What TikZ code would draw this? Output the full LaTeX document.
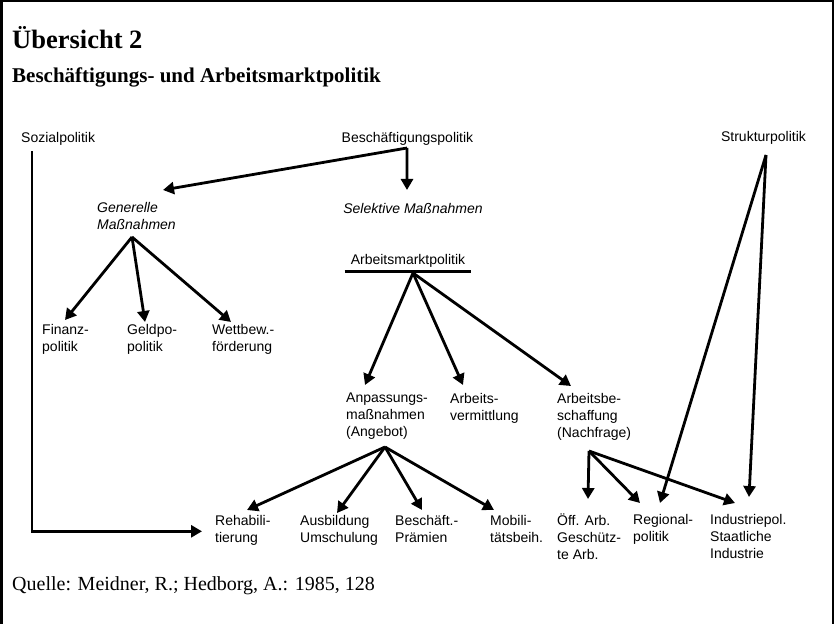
\documentclass[tikz,border=0pt]{standalone}
\usepackage{fontspec}
\setmainfont{Liberation Serif}
\newfontfamily\schaufont{Liberation Sans}
\newcommand\schau{\schaufont\fontsize{14bp}{17bp}\selectfont}
\usetikzlibrary{arrows.meta,calc}

\begin{document}
\begin{tikzpicture}[
    x=1bp, y=-1bp,
    box/.style={font=\schau, align=left, inner sep=0pt,
                anchor=north west, execute at begin node=\strut},
    head/.style={box, anchor=north},
    arr/.style={-{Triangle[length=11bp,width=12bp]}, line width=2.8bp},
    rahmen/.style={line width=2.5bp}
  ]
  \useasboundingbox (0,0) rectangle (835,624);
  \draw[rahmen] (1.25,624) |- (833,1) -- (833,624);

  % Kopf und Quelle
  \node[anchor=base west, inner sep=0pt,
        font=\bfseries\fontsize{26.5bp}{30bp}\selectfont] (titel) at (12,49) {Übersicht 2};
  \node[anchor=base west, inner sep=0pt,
        font=\bfseries\fontsize{21bp}{24bp}\selectfont] (untertitel) at (12,83)
    {Beschäftigungs- und Arbeitsmarktpolitik};
  \node[anchor=base west, inner sep=0pt,
        font=\fontsize{20bp}{24bp}\selectfont] (quelle) at (12,590)
    {Quelle: Meidner, R.; Hedborg, A.: 1985, 128};

  % oberste Ebene
  \node[box] (sozial) at (21,130) {Sozialpolitik};
  \node[head] (besch) at (407.5,130) {Beschäftigungspolitik};
  \node[head] (struk) at (763.5,129) {Strukturpolitik};

  \node[box, font=\schau\itshape] (gen) at (97,202) {Generelle\\Maßnahmen};
  \node[head, font=\schau\itshape] (sel) at (413,201) {Selektive Maßnahmen};
  \node[head] (amp) at (408,252) {Arbeitsmarktpolitik};
  \draw[line width=3bp] ([xshift=-6bp,yshift=-2.5bp]amp.south west)
    -- ([xshift=6bp,yshift=-2.5bp]amp.south east);

  \node[box] (fin) at (42,324) {Finanz-\\politik};
  \node[box] (geld) at (127,324) {Geldpo-\\politik};
  \node[box] (wett) at (212,324) {Wettbew.-\\förderung};

  \node[box] (anp) at (346,393) {Anpassungs-\\maßnahmen\\(Angebot)};
  \node[box] (verm) at (450,393) {Arbeits-\\vermittlung};
  \node[box] (besf) at (557,393) {Arbeitsbe-\\schaffung\\(Nachfrage)};

  \node[box] (reha) at (215,515) {Rehabili-\\tierung};
  \node[box] (ausb) at (300,515) {Ausbildung\\Umschulung};
  \node[box] (praem) at (395,515) {Beschäft.-\\Prämien};
  \node[box] (mob) at (490,515) {Mobili-\\tätsbeih.};
  \node[box] (oeff) at (557,514) {Öff. Arb.\\Geschütz-\\te Arb.};
  \node[box] (reg) at (633,514) {Regional-\\politik};
  \node[box] (ind) at (710,514) {Industriepol.\\Staatliche\\Industrie};

  % Verzweigungspunkte
  \coordinate (beschJ) at (407,148);
  \coordinate (genJ) at (132,237);
  \coordinate (ampJ) at (413,273);
  \coordinate (anpJ) at (385,447);
  \coordinate (besfJ) at (589,451);
  \coordinate (strukJ) at (766,155);

  \draw[arr] ([xshift=11bp,yshift=-4bp]sozial.south west) |- ([xshift=-13bp]reha.west);

  \draw[arr] (beschJ) -- ([xshift=66bp,yshift=12bp]gen.north west);
  \draw[arr] (beschJ) -- ([xshift=-6bp,yshift=11bp]sel.north);

  \draw[arr] (genJ) -- ([xshift=23bp,yshift=4bp]fin.north west);
  \draw[arr] (genJ) -- ([xshift=18bp,yshift=2bp]geld.north west);
  \draw[arr] (genJ) -- ([xshift=19bp,yshift=2bp]wett.north west);

  \draw[arr] (ampJ) -- ([xshift=19bp,yshift=8bp]anp.north west);
  \draw[arr] (ampJ) -- ([xshift=13bp,yshift=8bp]verm.north west);
  \draw[arr] (ampJ) -- ([xshift=14bp,yshift=7bp]besf.north west);

  \draw[arr] (anpJ) -- ([xshift=32bp,yshift=5bp]reha.north west);
  \draw[arr] (anpJ) -- ([xshift=37bp,yshift=2bp]ausb.north west);
  \draw[arr] (anpJ) -- ([xshift=27bp,yshift=5bp]praem.north west);
  \draw[arr] (anpJ) -- ([xshift=4bp,yshift=5bp]mob.north west);

  \draw[arr] (besfJ) -- ([xshift=31bp,yshift=15bp]oeff.north west);
  \draw[arr] (besfJ) -- ([xshift=7bp,yshift=11bp]reg.north west);
  \draw[arr] (besfJ) -- ([xshift=25bp,yshift=11bp]ind.north west);

  \draw[arr] (strukJ) -- ([xshift=27bp,yshift=11bp]reg.north west);
  \draw[arr] (strukJ) -- ([xshift=39bp,yshift=17bp]ind.north west);
\end{tikzpicture}
\end{document}
